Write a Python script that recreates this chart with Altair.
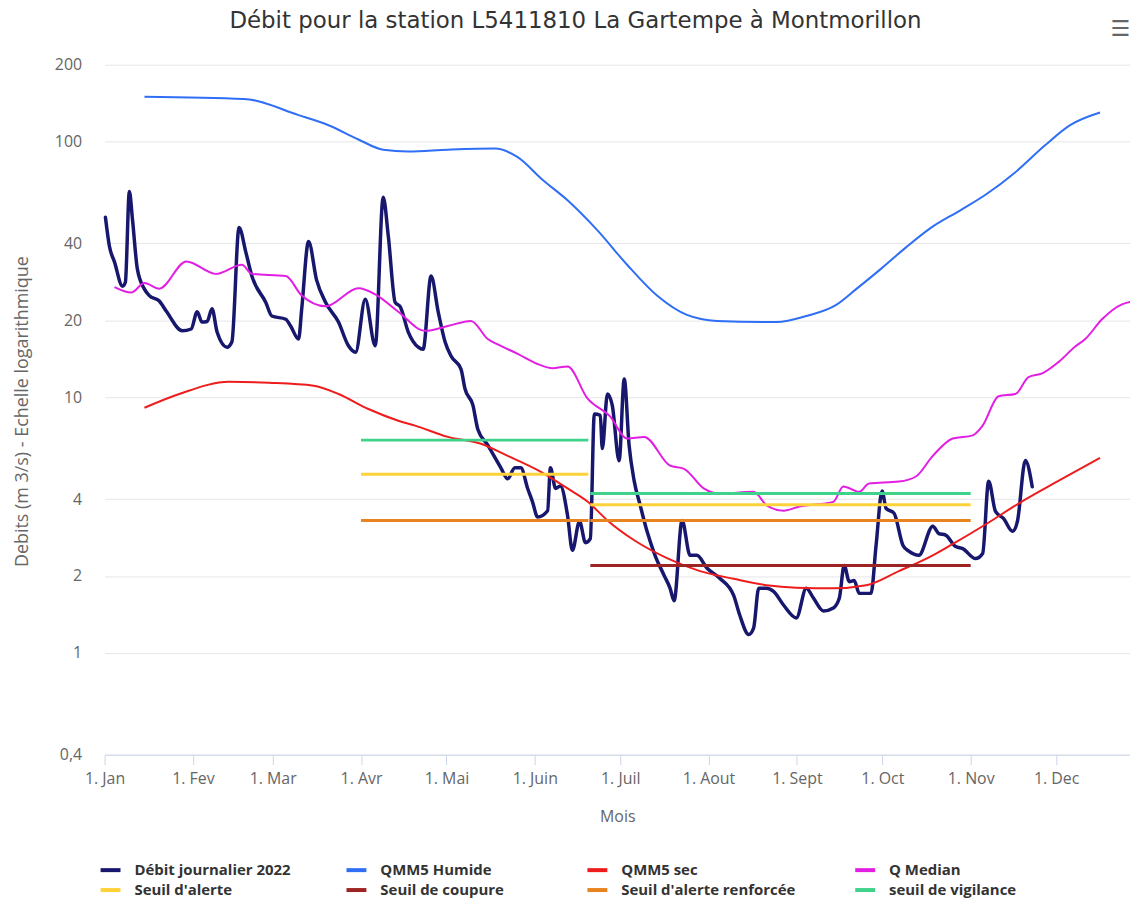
import altair as alt
import pandas as pd

# ---------------- data (day of year, m3/s) ----------------
debit_2022 = [
    (0.3, 50.6), (1.7, 39), (3.5, 33.8), (6.3, 27.2), (7.3, 28.2), (8.7, 63.8), (9.8, 49.6),
    (11.5, 31.8), (14.0, 26.5), (15.7, 25), (19.2, 23.8), (21.7, 21.7), (27.3, 18.2), (30.4, 18.5),
    (32.5, 21.6), (34.2, 19.7), (36.0, 19.8), (37.7, 22.2), (39.5, 18.0), (43.0, 15.7), (44.7, 16.5),
    (47.2, 46.2), (49.6, 36.9), (51.7, 29.8), (56.6, 23.5), (58.7, 20.8), (63.6, 20.2), (65.3, 19.0),
    (68.1, 16.9), (69.2, 22.2), (71.6, 40.7), (74.4, 28.8), (77.6, 23.5), (82.1, 19.7), (85.6, 15.9),
    (88.1, 15.0), (91.5, 24.2), (95.0, 15.9), (97.8, 60.6), (99.6, 42.6), (102.0, 23.5), (103.8, 22.6),
    (106.6, 18.0), (110.1, 15.7), (111.8, 15.4), (114.6, 29.8), (117.1, 21.6), (119.5, 16.5),
    (121.6, 14.5), (125.1, 12.9), (126.5, 10.8), (129.3, 9.3), (131.0, 7.5), (134.5, 6.5),
    (139.1, 5.3), (141.5, 4.8), (144.0, 5.3), (146.1, 5.3), (148.5, 4.4), (150.2, 3.9), (152.0, 3.4),
    (155.5, 3.6), (156.5, 5.3), (158.3, 4.4), (160.0, 4.5), (162.5, 3.45), (164.2, 2.52),
    (166.7, 3.27), (168.8, 2.7), (170.5, 2.8), (171.9, 8.6), (174.0, 8.5), (174.7, 6.3),
    (176.5, 10.3), (178.2, 9.3), (180.6, 5.65), (182.4, 11.8), (184.1, 6.5), (185.9, 4.7),
    (188.0, 3.78), (190.4, 2.99), (193.2, 2.41), (196.4, 2.01), (198.5, 1.79), (199.9, 1.6),
    (202.7, 3.3), (205.5, 2.41), (207.9, 2.41), (211.4, 2.15), (215.9, 1.96), (220.8, 1.68),
    (222.9, 1.41), (226.1, 1.18), (227.8, 1.25), (229.6, 1.79), (232.4, 1.79), (234.8, 1.74),
    (238.3, 1.54), (242.8, 1.37), (246.3, 1.79), (248.8, 1.64), (252.3, 1.46), (255.8, 1.5),
    (257.9, 1.64), (259.6, 2.2), (261.4, 1.9), (263.1, 1.92), (264.9, 1.71), (269.0, 1.71),
    (270.8, 2.64), (272.9, 4.3), (274.3, 3.68), (277.1, 3.52), (280.2, 2.64), (282.3, 2.5),
    (285.8, 2.41), (290.7, 3.13), (292.8, 2.93), (295.2, 2.89), (298.7, 2.61), (301.2, 2.56),
    (305.7, 2.34), (308.2, 2.45), (310.3, 4.7), (312.7, 3.58), (315.5, 3.36), (318.7, 2.99),
    (320.4, 3.27), (323.2, 5.66), (325.6, 4.47),
]

qmm5_humide = [
    (14.0, 150), (48.9, 147), (68.1, 127), (78.6, 116), (89.1, 102), (97.8, 93), (106.6, 91.5),
    (120.5, 93), (137.0, 94), (145.0, 87), (153.7, 71), (162.5, 59), (173.0, 45), (183.4, 33),
    (193.9, 25), (204.4, 21), (214.9, 19.9), (235.8, 19.7), (246.3, 20.8), (256.8, 23),
    (263.8, 26.5), (272.5, 31.8), (281.3, 38.6), (290.0, 46), (300.5, 54), (309.2, 62),
    (319.7, 76), (330.2, 97), (338.9, 116), (349.4, 130),
]

qmm5_sec = [
    (14.0, 9.1), (26.2, 10.3), (43.7, 11.5), (57.7, 11.4), (73.4, 11.1), (82.1, 10.3), (92.6, 9.0),
    (103.1, 8.1), (109.0, 7.75), (120.5, 7.0), (132.1, 6.58), (141.5, 5.9), (153.0, 5.12),
    (162.5, 4.4), (169.5, 3.91), (176.5, 3.3), (185.9, 2.76), (197.4, 2.35), (209.0, 2.09),
    (220.8, 1.95), (232.4, 1.84), (242.8, 1.8), (255.8, 1.79), (267.3, 1.84), (278.8, 2.09),
    (290.7, 2.41), (297.0, 2.64), (309.2, 3.18), (320.8, 3.84), (335.4, 4.75), (349.4, 5.8),
]

q_median = [
    (3.5, 27), (9.4, 25.7), (14.0, 28), (19.2, 26.6), (28.7, 34), (39.1, 30.4), (48.2, 33),
    (51.7, 30.4), (63.6, 29.8), (69.2, 25), (77.6, 22.7), (89.1, 26.7), (95.0, 25.3),
    (103.1, 21.6), (112.5, 18.2), (120.5, 19.0), (128.6, 19.9), (134.5, 16.9), (138.0, 16.1),
    (145.0, 14.8), (152.0, 13.5), (157.2, 13.0), (162.5, 13.2), (169.5, 9.9), (177.5, 8.4),
    (183.4, 6.9), (189.4, 7.0), (198.5, 5.4), (203.4, 5.25), (210.3, 4.4), (215.9, 4.2),
    (227.8, 4.27), (232.4, 3.78), (238.3, 3.6), (243.9, 3.74), (255.8, 3.9), (259.3, 4.48),
    (264.9, 4.27), (268.3, 4.6), (278.8, 4.68), (284.8, 4.9), (290.7, 5.9), (297.7, 6.9),
    (304.7, 7.1), (308.2, 7.75), (313.8, 10.1), (319.7, 10.3), (324.3, 12.0), (329.1, 12.4),
    (334.7, 13.7), (340.7, 15.8), (344.2, 16.9), (350.1, 20.2), (357.1, 23.1), (360.9, 23.7),
]

# threshold periods (day of year) and values per period
seuil_debut = [90.0, 170.5]
seuil_fin = [169.8, 304.0]
seuil_vigilance = [6.8, 4.2]
seuil_alerte = [5.0, 3.8]
seuil_renforcee = [3.3, 3.3]
seuil_coupure = [None, 2.2]

series_names = ["Débit journalier 2022", "QMM5 Humide", "QMM5 sec", "Q Median",
                "Seuil d'alerte", "Seuil de coupure", "Seuil d'alerte renforcée", "seuil de vigilance"]
series_colors = ["#17176e", "#2f6ef5", "#ee1c1c", "#e31ee3",
                 "#ffd23a", "#9e2424", "#e8841f", "#3fd28a"]

mois = ["Jan", "Fev", "Mar", "Avr", "Mai", "Juin", "Juil", "Aout", "Sept", "Oct", "Nov", "Dec"]
y_ticks = [0.4, 1, 2, 4, 10, 20, 40, 100, 200]

# ---------------- tables ----------------
BASE = pd.Timestamp("2022-01-01")


def frame(points, name):
    return pd.DataFrame({
        "date": [BASE + pd.Timedelta(days=d) for d, _ in points],
        "debit": [v for _, v in points],
        "serie": name,
    })


df_debit = frame(debit_2022, series_names[0])
df_ref = pd.concat([frame(qmm5_humide, series_names[1]),
                    frame(qmm5_sec, series_names[2]),
                    frame(q_median, series_names[3])])

rows = []
for name, vals in [(series_names[4], seuil_alerte), (series_names[5], seuil_coupure),
                   (series_names[6], seuil_renforcee), (series_names[7], seuil_vigilance)]:
    for i, v in enumerate(vals):
        if v is None:
            continue
        for d in (seuil_debut[i], seuil_fin[i]):
            rows.append({"date": BASE + pd.Timedelta(days=d), "debit": v,
                         "serie": name, "seg": f"{name}-{i}"})
df_seuils = pd.DataFrame(rows)

FONT = "Open Sans"

# invisible trailing no-break spaces (closed by a zero-width char so they are not trimmed)
# widen two legend columns to give the even column spacing of the original legend
NB = "\u00a0"
ZW = "\u200b"
legend_label_expr = (
    'datum.label == "Seuil de coupure" ? datum.label + "' + NB * 7 + ZW + '" : '
    '(datum.label == "Seuil d\'alerte renforcée" ? datum.label + "' + NB * 1 + ZW + '" : datum.label)'
)

legend = alt.Legend(
    orient="none", legendX=-6, legendY=797, columns=4, direction="horizontal",
    symbolType="stroke", symbolStrokeWidth=4, symbolSize=400,
    labelFontSize=15, labelFontWeight="bold", labelColor="#333333", labelFont=FONT,
    labelExpr=legend_label_expr,
    columnPadding=48, rowPadding=0, labelOffset=12, labelLimit=400, padding=0, title=None,
)
color = alt.Color("serie:N", scale=alt.Scale(domain=series_names, range=series_colors), legend=legend)

x_enc = alt.X(
    "date:T",
    scale=alt.Scale(domain=[alt.DateTime(year=2022, month=1, date=1),
                            alt.DateTime(year=2022, month=12, date=26, hours=22)]),
    axis=alt.Axis(
        values=[alt.DateTime(year=2022, month=m, date=1) for m in range(1, 13)],
        labelExpr="'1. ' + " + str(mois) + "[month(datum.value)]",
        grid=False, domainColor="#ccd6eb", tickColor="#ccd6eb", tickSize=10,
        labelPadding=6, labelColor="#666666", labelFontSize=16, labelFont=FONT,
        labelFlush=False, labelOverlap=False,
        title="Mois", titleFontSize=16, titleColor="#666666", titleFont=FONT,
        titleFontWeight="normal", titlePadding=22,
    ),
)
y_enc = alt.Y(
    "debit:Q",
    scale=alt.Scale(type="log", domain=[0.4, 200], nice=False),
    axis=alt.Axis(
        values=y_ticks, labelExpr="replace(toString(datum.value), '.', ',')",
        grid=True, gridColor="#e6e6e6", domain=False, ticks=False, labelPadding=23,
        labelColor="#666666", labelFontSize=16, labelFont=FONT,
        title="Debits (m 3/s) - Echelle logarithmique", titleFontSize=18, titleColor="#666666",
        titleFont=FONT, titleFontWeight="normal", titleX=-73, titleY=348,
    ),
)

l_debit = alt.Chart(df_debit).mark_line(strokeWidth=3.5, interpolate="monotone",
                                        strokeJoin="round", strokeCap="round").encode(
    x=x_enc, y=y_enc, color=color)
l_ref = alt.Chart(df_ref).mark_line(strokeWidth=2, interpolate="monotone").encode(
    x=x_enc, y=y_enc, color=color, detail="serie:N")
l_seuils = alt.Chart(df_seuils).mark_line(strokeWidth=3).encode(
    x=x_enc, y=y_enc, color=color, detail="seg:N")

# export-menu icon in the top right corner (decoration, not data)
menu = alt.Chart(pd.DataFrame({"icon": ["☰"]})).mark_text(
    fontSize=22, color="#666666", align="right", baseline="middle", font="DejaVu Sans"
).encode(text="icon:N", x=alt.value(1030), y=alt.value(-36))

chart = alt.layer(l_debit, l_ref, l_seuils, menu).properties(
    width=1030, height=693,
    autosize=alt.AutoSizeParams(type="none"),
    padding={"left": 97, "top": 55, "right": 0, "bottom": 142},
    title=alt.TitleParams(
        "Débit pour la station L5411810 La Gartempe à Montmorillon",
        fontSize=23, font="DejaVu Sans", color="#333333", fontWeight="normal",
        anchor="middle", offset=-15, dx=-42,
    ),
).configure_view(stroke=None)

chart.save("out.html", embed_options={"renderer": "svg", "actions": False})
